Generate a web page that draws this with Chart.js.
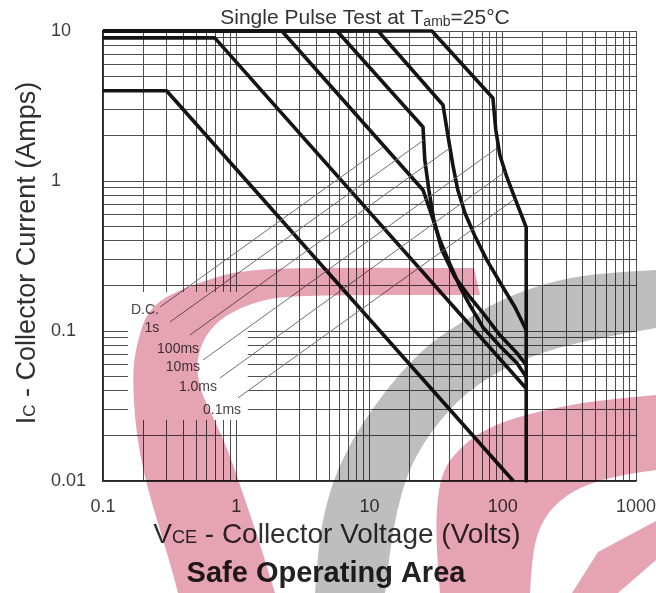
<!DOCTYPE html>
<html>
<head>
<meta charset="utf-8">
<script src="https://cdn.jsdelivr.net/npm/chart.js@4.4.1/dist/chart.umd.min.js"></script>
<style>
  html, body { margin: 0; padding: 0; background: #fff; }
  #wrap { position: relative; width: 656px; height: 593px; }
</style>
</head>
<body>
<div id="wrap"><canvas id="soa" width="656" height="593"></canvas></div>
<script>
// ---- axis ticks (log-log paper) ----
const xTickValues = [0.1, 1, 10, 100, 1000];
const xTickLabels = ['0.1', '1', '10', '100', '1000'];
const yTickValues = [0.01, 0.1, 1, 10];
const yTickLabels = ['0.01', '0.1', '1', '10'];

// ---- safe operating area boundaries: [VCE (V), IC (A)] ----
const dcCurve = [[0.1, 4], [0.3, 4], [120, 0.01]];
const s1Curve = [[0.1, 9], [0.69, 9], [150, 0.0414]];
const ms100Curve = [[0.1, 10], [2.2, 10], [25.2, 0.871], [28.4, 0.641], [33.7, 0.404], [40.1, 0.28],
  [47.7, 0.197], [57.7, 0.1445], [70.9, 0.106], [95.1, 0.0794], [127.6, 0.0612], [150, 0.0494]];
const ms10Curve = [[0.1, 10], [5.7, 10], [25.2, 2.29], [26.0, 1.38], [27.9, 0.871], [30.4, 0.55],
  [34.9, 0.347], [43.7, 0.229], [56.6, 0.1685], [70.9, 0.132], [95.1, 0.094], [127.6, 0.0714], [150, 0.0593]];
const ms1Curve = [[0.1, 10], [11.6, 10], [35.6, 3.21], [38.7, 2.03], [42.2, 1.28], [46.0, 0.87],
  [52.0, 0.612], [61.8, 0.43], [76.0, 0.297], [100, 0.1966], [123.3, 0.1445], [150, 0.1015]];
const ms01Curve = [[0.1, 10], [29.4, 10], [84.3, 3.58], [88.7, 2.19], [95.1, 1.49], [107.4, 1.06],
  [123.3, 0.77], [150, 0.49], [150, 0.01]];

// ---- curve names, their anchor points and pointer lines ----
const curveNames = ['D.C.', '1s', '100ms', '10ms', '1.0ms', '0.1ms'];
const nameAnchors = [[0.2065, 0.138], [0.233, 0.105], [0.366, 0.0759], [0.398, 0.0575], [0.516, 0.0424], [0.782, 0.0297]];
const pointerLines = [
  [[0.268, 0.1445], [12.6, 1.686]],
  [[0.318, 0.1148], [25.6, 1.877]],
  [[0.449, 0.094], [40.1, 1.66]],
  [[0.5625, 0.064], [88.7, 1.635]],
  [[0.755, 0.0486], [103.7, 1.148]],
  [[1.03, 0.0358], [123.3, 0.759]]
];
// blank patch behind the names, in axis units
const nameBoxX = [0.154, 1.22];
const nameBoxY = [0.0255, 0.182];

const FONT = "'Liberation Sans', Arial, Helvetica, sans-serif";
const toXY = arr => arr.map(([x, y]) => ({ x, y }));

// every 1..9 multiple inside a range, used for the grid lines
function gridValues(lo, hi) {
  const out = [];
  for (let e = Math.round(Math.log10(lo)); e <= Math.round(Math.log10(hi)); e++) {
    for (let m = 1; m <= 9; m++) {
      const v = +(m * Math.pow(10, e)).toPrecision(6);
      if (v >= lo * 0.9999 && v <= hi * 1.0001) out.push(v);
    }
  }
  return out;
}
function labelFor(v, vals, labels) {
  const i = vals.findIndex(t => Math.abs(Math.log10(t) - Math.log10(v)) < 1e-6);
  return i >= 0 ? labels[i] : '';
}

const curveStyle = {
  borderColor: '#141414', borderWidth: 3.6, pointRadius: 0, tension: 0,
  fill: false, clip: 6, borderJoinStyle: 'round', borderCapStyle: 'butt'
};
const pointerStyle = { borderColor: '#707070', borderWidth: 1, pointRadius: 0, fill: false, clip: 0 };

// text with a smaller second-size run (subscripts)
function drawRich(ctx, parts, x, y) {
  let total = 0;
  parts.forEach(p => {
    ctx.font = `${p.bold ? 'bold ' : ''}${p.size}px ${FONT}`;
    p.w = ctx.measureText(p.t).width;
    total += p.w;
  });
  let cx = x - total / 2;
  ctx.textAlign = 'left';
  ctx.textBaseline = 'alphabetic';
  parts.forEach(p => {
    ctx.font = `${p.bold ? 'bold ' : ''}${p.size}px ${FONT}`;
    ctx.fillText(p.t, cx, y + (p.dy || 0));
    cx += p.w;
  });
}

// logo backdrop bands (canvas pixels), blended over the page
const pinkBand = {
  outer: [[474, 268], [300, 267], [240, 271], [213, 278], [185, 288], [160, 300], [146, 316], [140, 333],
    [134, 358], [133, 383], [135, 420], [140, 455], [148, 490], [160, 530], [172, 570], [178, 593]],
  inner: [[275, 593], [265, 560], [252, 520], [240, 485], [228, 450], [213, 417], [200, 390], [196, 362],
    [205, 335], [225, 315], [260, 300], [300, 295], [480, 295]]
};
const grayBand = {
  outer: [[656, 270], [600, 273], [559, 280], [525, 290], [495, 303], [465, 320], [430, 343], [400, 373],
    [375, 405], [352, 440], [333, 480], [320, 530], [315, 593]],
  inner: [[385, 593], [390, 550], [397, 510], [407, 475], [422, 445], [442, 418], [464, 395], [492, 375],
    [522, 360], [560, 347], [600, 338], [656, 328]]
};
const pinkBand2 = {
  outer: [[656, 395], [600, 400], [559, 407], [513, 418], [480, 432], [458, 450], [443, 470], [437, 500],
    [436, 540], [440, 593]],
  inner: [[530, 593], [532, 555], [540, 525], [556, 503], [580, 487], [615, 476], [656, 470]]
};
const pinkCorner = [[572, 593], [598, 552], [656, 521], [656, 560], [618, 593]];

function smoothEdge(ctx, pts, first) {
  if (first) ctx.moveTo(pts[0][0], pts[0][1]); else ctx.lineTo(pts[0][0], pts[0][1]);
  for (let i = 1; i < pts.length - 1; i++) {
    const mx = (pts[i][0] + pts[i + 1][0]) / 2, my = (pts[i][1] + pts[i + 1][1]) / 2;
    ctx.quadraticCurveTo(pts[i][0], pts[i][1], mx, my);
  }
  const last = pts[pts.length - 1];
  ctx.lineTo(last[0], last[1]);
}
function fillBand(ctx, band, color) {
  ctx.beginPath();
  smoothEdge(ctx, band.outer, true);
  smoothEdge(ctx, band.inner, false);
  ctx.closePath();
  ctx.fillStyle = color;
  ctx.fill();
}

const decorPlugin = {
  id: 'decor',
  beforeDraw(chart) {
    const ctx = chart.ctx;
    ctx.save();
    ctx.fillStyle = '#ffffff';
    ctx.fillRect(0, 0, chart.width, chart.height);
    ctx.restore();
  },
  beforeDatasetsDraw(chart) {
    const { ctx, scales: { x, y } } = chart;
    ctx.save();
    ctx.fillStyle = '#ffffff';
    const x0 = x.getPixelForValue(nameBoxX[0]), x1 = x.getPixelForValue(nameBoxX[1]);
    const y0 = y.getPixelForValue(nameBoxY[1]), y1 = y.getPixelForValue(nameBoxY[0]);
    ctx.fillRect(x0, y0, x1 - x0, y1 - y0);
    ctx.restore();
  },
  afterDatasetsDraw(chart) {
    const { ctx, scales: { x, y } } = chart;
    ctx.save();
    ctx.fillStyle = '#474747';
    ctx.font = `14px ${FONT}`;
    ctx.textAlign = 'center';
    ctx.textBaseline = 'middle';
    curveNames.forEach((n, i) => {
      ctx.fillText(n, x.getPixelForValue(nameAnchors[i][0]), y.getPixelForValue(nameAnchors[i][1]));
    });
    ctx.restore();
  },
  afterDraw(chart) {
    const ctx = chart.ctx;
    ctx.save();
    // chart heading
    ctx.fillStyle = '#333333';
    drawRich(ctx, [{ t: 'Single Pulse Test at T', size: 21 }, { t: 'amb', size: 14, dy: 2 }, { t: '=25°C', size: 21 }], 365, 24);
    // horizontal axis title
    ctx.fillStyle = '#303030';
    drawRich(ctx, [{ t: 'V', size: 28 }, { t: 'CE', size: 18 }, { t: ' - Collector Voltage (Volts)', size: 28 }], 337, 543);
    // vertical axis title
    ctx.save();
    ctx.translate(25, 253);
    ctx.rotate(-Math.PI / 2);
    drawRich(ctx, [{ t: 'I', size: 27 }, { t: 'C', size: 17 }, { t: ' - Collector Current (Amps)', size: 27 }], 0, 10);
    ctx.restore();
    // caption
    ctx.fillStyle = '#222222';
    drawRich(ctx, [{ t: 'Safe Operating Area', size: 29, bold: true }], 326, 582);

    // logo backdrop, multiplied over everything
    ctx.globalCompositeOperation = 'multiply';
    const pink = 'rgb(229,163,179)';
    fillBand(ctx, pinkBand, pink);
    fillBand(ctx, grayBand, 'rgb(190,190,190)');
    fillBand(ctx, pinkBand2, pink);
    ctx.beginPath();
    pinkCorner.forEach((p, i) => i ? ctx.lineTo(p[0], p[1]) : ctx.moveTo(p[0], p[1]));
    ctx.closePath();
    ctx.fillStyle = pink;
    ctx.fill();
    ctx.restore();
  }
};

const gridStyle = { color: '#4e4e4e', lineWidth: 1, drawTicks: false };

new Chart(document.getElementById('soa'), {
  type: 'line',
  data: {
    datasets: [
      ...pointerLines.map(seg => ({ label: 'pointer', data: toXY(seg), ...pointerStyle })),
      { label: 'D.C.', data: toXY(dcCurve), ...curveStyle },
      { label: '1s', data: toXY(s1Curve), ...curveStyle },
      { label: '100ms', data: toXY(ms100Curve), ...curveStyle },
      { label: '10ms', data: toXY(ms10Curve), ...curveStyle },
      { label: '1.0ms', data: toXY(ms1Curve), ...curveStyle },
      { label: '0.1ms', data: toXY(ms01Curve), ...curveStyle }
    ]
  },
  options: {
    responsive: false,
    animation: false,
    devicePixelRatio: 1,
    layout: { padding: { left: 51, top: 31, right: 20, bottom: 0 } },
    plugins: { legend: { display: false }, tooltip: { enabled: false }, title: { display: false } },
    scales: {
      x: {
        type: 'logarithmic', min: 0.1, max: 1000, position: 'bottom',
        afterBuildTicks: s => { s.ticks = gridValues(0.1, 1000).map(v => ({ value: v })); },
        afterFit: s => { s.height = 112; s.paddingLeft = 0; s.paddingRight = 0; },
        grid: gridStyle,
        border: { color: '#262626', width: 1.5 },
        ticks: {
          autoSkip: false, maxRotation: 0, minRotation: 0, padding: 15, color: '#3c3c3c',
          font: { family: FONT, size: 18 },
          callback: v => labelFor(v, xTickValues, xTickLabels)
        }
      },
      y: {
        type: 'logarithmic', min: 0.01, max: 10, position: 'left',
        afterBuildTicks: s => { s.ticks = gridValues(0.01, 10).map(v => ({ value: v })); },
        afterFit: s => { s.width = 52; s.paddingTop = 0; s.paddingBottom = 0; },
        grid: gridStyle,
        border: { color: '#262626', width: 1.5 },
        ticks: {
          autoSkip: false, crossAlign: 'far', padding: 4, color: '#3c3c3c',
          font: { family: FONT, size: 18 },
          callback: v => labelFor(v, yTickValues, yTickLabels)
        }
      }
    }
  },
  plugins: [decorPlugin]
});
</script>
</body>
</html>
